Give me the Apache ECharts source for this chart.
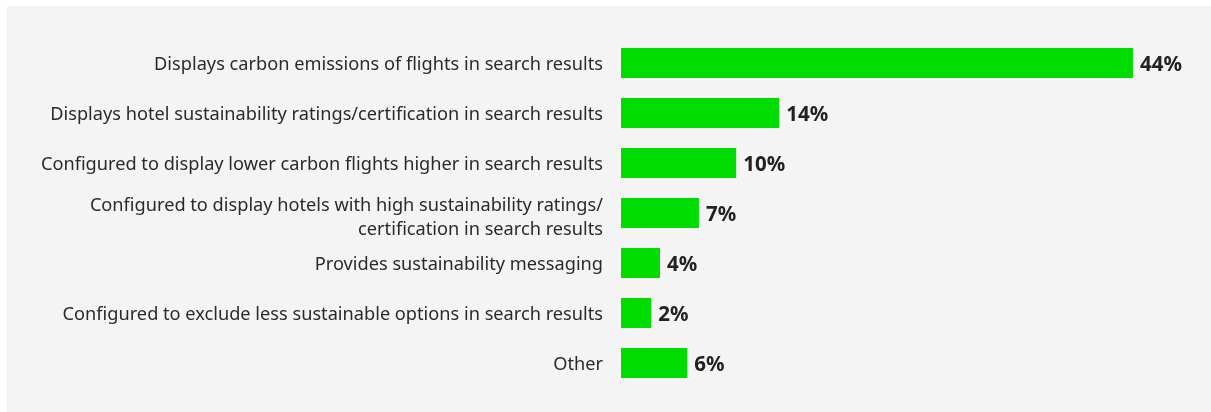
<!DOCTYPE html>
<html>
<head>
<meta charset="utf-8">
<script src="https://cdn.jsdelivr.net/npm/echarts@6/dist/echarts.min.js"></script>
<style>
html,body{margin:0;padding:0;background:#ffffff;}
#wrap{position:absolute;left:7px;top:6px;width:1204px;height:406px;background:#f4f4f4;}
#chart{position:absolute;left:0;top:0;width:1211px;height:412px;}
</style>
</head>
<body>
<div id="wrap"></div>
<div id="chart"></div>
<script>
var categories = [
  "Displays carbon emissions of flights in search results",
  "Displays hotel sustainability ratings/certification in search results",
  "Configured to display lower carbon flights higher in search results",
  "Configured to display hotels with high sustainability ratings/\ncertification in search results",
  "Provides sustainability messaging",
  "Configured to exclude less sustainable options in search results",
  "Other"
];
var values = [44, 13.6, 9.9, 6.7, 3.35, 2.6, 5.7];
var valueLabels = ["44%", "14%", "10%", "7%", "4%", "2%", "6%"];

var catFont = {color: '#2a2a2a', fontFamily: 'Noto Sans', fontSize: 18.2, lineHeight: 24, align: 'right'};

var chart = echarts.init(document.getElementById('chart'), null, {renderer: 'canvas'});
chart.setOption({
  backgroundColor: 'transparent',
  animation: false,
  grid: {left: 621, right: 8.2, top: 38, bottom: 24, containLabel: false},
  xAxis: {
    type: 'value', min: 0, max: 50, show: false
  },
  yAxis: {
    type: 'category',
    inverse: true,
    data: categories,
    axisLine: {show: false},
    axisTick: {show: false},
    splitLine: {show: false},
    axisLabel: {
      margin: 18,
      color: '#2a2a2a',
      fontFamily: 'Noto Sans',
      fontSize: 18.2,
      lineHeight: 24,
      align: 'right',
      formatter: function (v) {
        var lines = v.split('\n');
        if (lines.length > 1) {
          return '{g| }\n' + lines.map(function (l) { return '{n|' + l + '}'; }).join('\n');
        }
        return '{s|' + v + '}';
      },
      rich: {
        s: Object.assign({padding: [4, 0, 0, 0]}, catFont),
        g: {fontSize: 1, lineHeight: 10, height: 10},
        n: Object.assign({}, catFont)
      }
    }
  },
  series: [{
    type: 'bar',
    data: values,
    barCategoryGap: '40%',
    itemStyle: {color: '#00dc00'},
    label: {
      show: true,
      position: 'right',
      distance: 7,
      formatter: function (p) { return '{v|' + valueLabels[p.dataIndex] + '}'; },
      rich: {
        v: {
          color: '#222222',
          fontFamily: 'Noto Sans',
          fontWeight: 'bold',
          fontSize: 20.5,
          padding: [4, 0, 0, 0]
        }
      }
    }
  }]
});
</script>
</body>
</html>
